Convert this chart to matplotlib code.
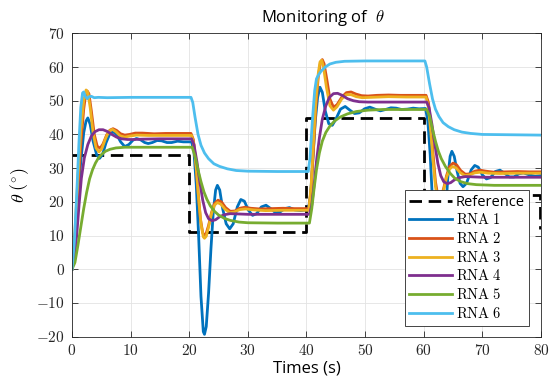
import matplotlib
matplotlib.use("Agg")
import matplotlib.pyplot as plt
from matplotlib.ticker import FuncFormatter, MultipleLocator

plt.rcParams['font.family'] = ['Open Sans', 'DejaVu Sans']
plt.rcParams['mathtext.fontset'] = 'cm'

# consigne (reference)
ref_t = [0, 20, 20, 40, 40, 60, 60, 79.8, 79.8]
ref_v = [34, 34, 11, 11, 45, 45, 22, 22, 12]

# RNA 1
rna1_t = [0, 0.5, 1, 1.5, 2, 2.4, 2.7, 3.1, 3.6, 4.2, 4.7, 5.2, 5.8, 6.4, 7, 7.6, 8.3, 9, 9.7, 10.4,
          11, 11.7, 12.4, 13, 13.7, 14.5, 15.3, 16.2, 17, 18, 19, 20.4,
          20.8, 21.2, 21.6, 22, 22.4, 22.6, 22.9, 23.3, 23.7, 24.1, 24.5, 24.8, 25.2, 25.7, 26.3, 26.9,
          27.5, 28.2, 28.8, 29.4, 30.1, 30.8, 31.5, 32.3, 33.1, 33.9, 34.7, 35.5, 36.3, 37.1, 38, 39, 40.3,
          40.7, 41.1, 41.5, 41.9, 42.3, 42.7, 43.2, 43.8, 44.4, 45, 45.8, 46.6, 47.4, 48.2, 49, 49.9,
          50.8, 51.7, 52.6, 53.5, 54.4, 55.3, 56.2, 57.2, 58.2, 59.2, 60.3,
          60.7, 61.1, 61.5, 61.9, 62.3, 62.6, 62.9, 63.3, 63.7, 64.1, 64.5, 64.8, 65.2, 65.7, 66.2, 66.7,
          67.3, 68.1, 68.7, 69.3, 70, 70.7, 71.4, 72.2, 73, 73.8, 74.6, 75.4, 76.2, 77, 78, 79, 80]
rna1_v = [0, 9, 21, 32, 40.5, 44, 44.9, 43, 38, 34, 32.9, 34, 37.5, 40, 40.8, 40, 37.8, 36.4, 37, 38.3,
          38.8, 38.4, 37.6, 37.3, 37.6, 38.2, 38.1, 37.6, 37.6, 38, 37.8, 37.8,
          35, 25, 10, -8, -18.5, -19.3, -17, -7, 6, 17, 23.5, 24.9, 23.5, 18, 13.5, 12,
          13.5, 18.5, 20.7, 20.2, 17.5, 16, 16.5, 18.5, 19, 18, 16.8, 17, 18, 18.3, 17.6, 17.4, 17.7,
          22, 33, 44, 51, 54, 52.5, 47, 43.2, 42.7, 44.5, 47.5, 48.3, 47.2, 46.2, 46.4, 47.6,
          48.1, 47.5, 47, 47.4, 47.9, 47.8, 47.4, 47.5, 47.8, 47.6, 47.7,
          44, 34, 20, 5, -4, -7.5, -6, 3, 16, 27, 33.5, 35, 33.5, 29, 25.5, 24.5,
          25.5, 29.5, 30.8, 30.3, 28, 26.8, 27.2, 29, 29.4, 28.5, 27.4, 27.4, 28.3, 28.6, 28, 27.6, 27.8]

# RNA 2
rna2_t = [0, 0.5, 1, 1.5, 2, 2.3, 2.6, 2.9, 3.3, 3.8, 4.3, 4.8, 5.3, 5.9, 6.5, 7, 7.6, 8.3, 9, 9.8,
          10.8, 12, 14, 16, 18, 20.3,
          20.7, 21.1, 21.5, 21.9, 22.3, 22.6, 22.9, 23.3, 23.8, 24.3, 24.9, 25.5, 26.2, 27, 27.8, 28.6,
          29.5, 30.5, 32, 34, 36, 38, 40.4,
          40.8, 41.2, 41.6, 42, 42.4, 42.7, 43, 43.5, 44, 44.6, 45.2, 46, 46.8, 47.6, 48.4, 49.4, 50.5,
          52, 54, 56, 58, 60.4,
          60.8, 61.2, 61.6, 62, 62.4, 62.7, 63, 63.4, 63.9, 64.4, 65, 65.6, 66.3, 67.1, 67.9, 68.7,
          69.6, 70.6, 72, 74, 76, 78, 80]
rna2_v = [0, 9, 23, 37, 47.5, 51.5, 52.9, 52, 47, 40, 36.5, 35.9, 37.2, 39.8, 41.3, 41.7, 41.2, 40.2, 39.8, 40,
          40.4, 40.4, 40.2, 40.3, 40.3, 40.3,
          38.5, 32, 23, 15, 10.8, 10.1, 10.7, 13, 16.8, 19.5, 20.5, 20, 18.3, 17.2, 17.3, 18.1,
          18.4, 18.1, 17.9, 18, 18.1, 18, 18,
          24, 36, 48, 57, 61.5, 62.2, 61, 56, 50.5, 48.1, 48.8, 51, 52.4, 52.6, 52, 51.5, 51.4,
          51.6, 51.7, 51.6, 51.6, 51.6,
          49.5, 43, 34, 26, 21.8, 21, 21.7, 24, 27.8, 30.5, 31.5, 31, 29.3, 28.2, 28.3, 29.1,
          29.4, 29.1, 28.8, 28.9, 29, 28.9, 28.9]

# RNA 3
rna3_t = [0, 0.5, 1, 1.5, 2, 2.4, 2.7, 3.1, 3.6, 4.1, 4.6, 5.1, 5.7, 6.3, 6.9, 7.5, 8.2, 9, 9.8,
          11, 13, 16, 20.4,
          20.8, 21.2, 21.6, 22, 22.4, 22.6, 22.9, 23.3, 23.8, 24.3, 24.8, 25.4, 26.1, 26.9, 27.7, 28.6,
          29.6, 31, 33, 36, 40.4,
          40.8, 41.2, 41.6, 42, 42.3, 42.6, 42.9, 43.4, 44, 44.6, 45.2, 46, 46.8, 47.6, 48.5, 49.5,
          51, 54, 57, 60.4,
          60.8, 61.2, 61.6, 62, 62.4, 62.7, 63, 63.4, 63.9, 64.4, 64.9, 65.5, 66.2, 67, 67.8, 68.7,
          69.7, 71, 73, 76, 80]
rna3_v = [0, 11, 27, 41, 50, 53.2, 52.5, 48, 40.5, 36, 34.8, 35.8, 38.7, 41, 41.5, 40.8, 39.6, 39.2, 39.5,
          39.8, 39.7, 39.7, 39.7,
          37, 30, 21, 13.5, 9.6, 9.2, 9.8, 12.5, 16.5, 19, 19.8, 19.3, 17.8, 16.8, 17, 17.7,
          17.9, 17.6, 17.4, 17.5, 17.5,
          25, 38, 50, 58, 61.5, 62, 60, 54, 48.5, 47.2, 48.2, 50.5, 51.8, 51.8, 51.2, 50.9,
          51, 51.2, 51.1, 51.1,
          48, 41, 32, 24.5, 20.6, 20.2, 20.9, 23.5, 27.3, 29.7, 30.5, 30.1, 28.7, 27.8, 28, 28.6,
          28.8, 28.5, 28.4, 28.5, 28.5]

# RNA 4
rna4_t = [0, 0.4, 0.8, 1.2, 1.6, 2.1, 2.7, 3.3, 3.9, 4.6, 5.3, 6, 6.8, 7.6, 8.5, 9.5, 10.5, 12, 15, 20.4,
          20.8, 21.3, 21.8, 22.3, 22.8, 23.3, 23.9, 24.5, 25.2, 26, 27, 28.5, 30, 35, 40.5,
          40.9, 41.3, 41.7, 42.2, 42.7, 43.3, 43.9, 44.6, 45.3, 46.1, 47, 48, 49, 50.5, 55, 60.5,
          60.9, 61.4, 61.9, 62.4, 62.9, 63.4, 64, 64.6, 65.3, 66.1, 67.1, 68.6, 70, 75, 80]
rna4_v = [0, 3, 10, 19, 27, 33, 37, 39.5, 40.8, 41.4, 41.4, 40.9, 40, 39.2, 38.7, 38.5, 38.5, 38.6, 38.7, 38.7,
          37, 32, 26, 20.5, 16.8, 15, 14.4, 14.7, 15.6, 16.2, 16.5, 16.4, 16.3, 16.3, 16.3,
          19, 25, 32, 39, 44.5, 48.5, 51, 52.1, 52.2, 51.6, 50.6, 50, 49.7, 49.6, 49.6, 49.6,
          48, 43, 37, 31.5, 27.8, 26, 25.4, 25.7, 26.6, 27.2, 27.5, 27.4, 27.3, 27.3, 27.3]

# RNA 5
rna5_t = [0, 0.5, 1, 1.5, 2, 2.5, 3, 3.5, 4, 4.5, 5, 5.7, 6.5, 7.5, 9, 12, 20.5,
          21, 21.5, 22, 22.5, 23, 23.6, 24.3, 25, 26, 27, 28.5, 30, 35, 40.5,
          40.9, 41.3, 41.7, 42.2, 42.7, 43.3, 44, 44.8, 45.8, 47, 48.5, 50.5, 53, 60.5,
          61, 61.5, 62, 62.5, 63, 63.7, 64.5, 65.3, 66.3, 67.5, 69, 72, 80]
rna5_v = [0, 2, 7, 12.5, 18, 22.8, 26.8, 29.5, 31.5, 33, 34, 35, 35.6, 36, 36.2, 36.2, 36.2,
          33.5, 29.5, 26, 23, 20.8, 18.8, 17.2, 16.1, 15.1, 14.5, 14, 13.8, 13.7, 13.7,
          18, 24, 29.5, 34.5, 38, 40.6, 42.5, 44, 45.2, 46.1, 46.8, 47.2, 47.4, 47.4,
          45.5, 41.5, 38, 35, 32.8, 30.5, 28.5, 27, 26, 25.4, 25.1, 24.9, 24.9]

# RNA 6
rna6_t = [0, 0.4, 0.8, 1.2, 1.5, 1.8, 2.0, 2.3, 2.6, 2.9, 3.3, 3.8, 4.5, 6, 10, 20.3,
          20.6, 21, 21.5, 22, 22.6, 23.3, 24.2, 25.2, 26.5, 28, 30, 35, 40.3,
          40.6, 41, 41.4, 41.7, 42, 42.5, 43.2, 44, 45, 46.5, 50, 60.2,
          60.5, 61, 61.5, 62, 62.6, 63.3, 64.2, 65.2, 66.5, 68, 70, 75, 80]
rna6_v = [0, 8, 22, 38, 48, 52.3, 52.6, 51.2, 50.6, 51.2, 51.3, 50.9, 51, 50.9, 51, 51,
          49.5, 45, 40, 36.8, 34.5, 32.8, 31.3, 30.5, 29.8, 29.3, 29.1, 29, 29,
          33, 44, 53, 56.5, 57.5, 58.8, 60, 60.9, 61.4, 61.7, 61.8, 61.8,
          60, 55, 50.5, 47.5, 45.3, 43.5, 42.3, 41.4, 40.7, 40.3, 40, 39.9, 39.8]

couleurs = ['#0072BD', '#D95319', '#EDB120', '#7E2F8E', '#77AC30', '#4DBEEE']
series = [(rna1_t, rna1_v), (rna2_t, rna2_v), (rna3_t, rna3_v),
          (rna4_t, rna4_v), (rna5_t, rna5_v), (rna6_t, rna6_v)]

fig = plt.figure(figsize=(5.5, 3.82), dpi=100)
ax = fig.add_axes([0.1309, 0.1186, 0.8527, 0.7942])

ax.plot(ref_t, ref_v, color='k', lw=2, linestyle=(0, (4.5, 2.4)), label='Reference')
for i, (t, v) in enumerate(series):
    ax.plot(t, v, color=couleurs[i], lw=2, label=r'$\mathrm{RNA\ %d}$' % (i + 1))

ax.set_xlim(0, 80)
ax.set_ylim(-20, 70)
ax.xaxis.set_major_locator(MultipleLocator(10))
ax.yaxis.set_major_locator(MultipleLocator(10))
fmt = FuncFormatter(lambda v, _: r'$%g$' % v)
ax.xaxis.set_major_formatter(fmt)
ax.yaxis.set_major_formatter(fmt)
ax.tick_params(direction='in', length=4, width=0.6, colors='#262626', labelsize=11,
               top=True, right=True, pad=5)
ax.grid(True, color='#e3e3e3', lw=0.6)
for s in ax.spines.values():
    s.set_color('#262626')
    s.set_linewidth(0.6)

ax.set_title(r'Monitoring of  $\theta$', fontsize=12, x=0.535, pad=8)
ax.set_xlabel('Times (s)', fontsize=12, labelpad=1)
ax.set_ylabel(r'$\theta\;(^{\circ})$', fontsize=13, labelpad=4)

leg = ax.legend(loc='lower right', bbox_to_anchor=(0.975, 0.035), borderaxespad=0,
                fancybox=False, framealpha=1, edgecolor='#262626', fontsize=10.5,
                handlelength=2.9, labelspacing=0.25, handletextpad=0.3, borderpad=0.3)
leg.get_frame().set_linewidth(0.6)

fig.savefig('out.png', dpi=100)
